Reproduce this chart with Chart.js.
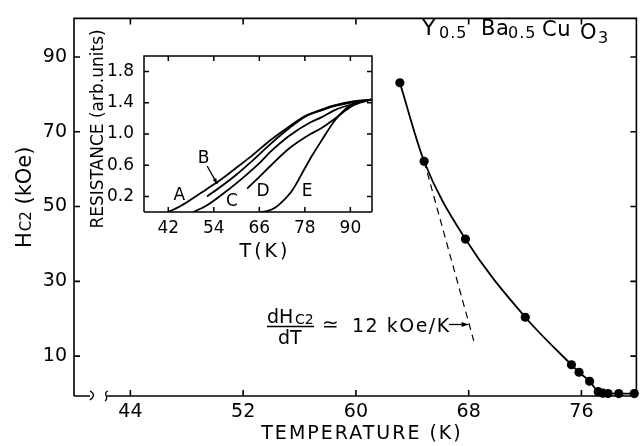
<!DOCTYPE html>
<html>
<head>
<meta charset="utf-8">
<script src="https://cdn.jsdelivr.net/npm/chart.js@4.4.0/dist/chart.umd.min.js"></script>
<style>
  html, body { margin: 0; padding: 0; background: #fff; }
  #wrap { position: relative; width: 641px; height: 446px; }
  #main { position: absolute; left: 0; top: 0; }
  #inset { position: absolute; left: 80px; top: 20px; }
</style>
</head>
<body>
<div id="wrap">
  <canvas id="main" width="641" height="446"></canvas>
  <canvas id="inset" width="300" height="250"></canvas>
</div>
<script>
// main plot: Hc2 vs temperature
const tempK = [63.12, 64.84, 67.77, 72.02, 75.29, 75.83, 76.58, 77.19, 77.52, 77.89, 78.65, 79.75];
const hc2kOe = [83.1, 62.1, 41.3, 20.4, 7.7, 5.7, 3.3, 0.5, 0.1, 0, 0, 0];
// tangent at the second point
const slopeT = [64.84, 68.36];
const slopeH = [62.1, 14.1];
const xTicks = [44, 52, 60, 68, 76];
const yTicks = [10, 30, 50, 70, 90];

// inset: resistance transitions A..E
const curveA_T = [42, 45, 48, 52, 56, 60, 64, 68.9, 74, 78, 82.2, 86, 91, 95.5];
const curveA_R = [0, 0.07, 0.16, 0.29, 0.42, 0.57, 0.72, 0.92, 1.1, 1.23, 1.31, 1.37, 1.42, 1.44];
const curveB_T = [52.2, 56, 60, 64, 68.9, 74, 78, 82.2, 86, 91, 95.5];
const curveB_R = [0.2, 0.33, 0.48, 0.65, 0.87, 1.08, 1.22, 1.3, 1.36, 1.41, 1.44];
const curveC_T = [48.6, 52, 56.6, 60, 66.3, 68.9, 74, 79.5, 82.2, 86, 91, 95.5];
const curveC_R = [0, 0.08, 0.24, 0.37, 0.64, 0.77, 0.98, 1.15, 1.21, 1.31, 1.39, 1.44];
const curveD_T = [62.8, 66, 68.9, 74, 79.5, 82.2, 86, 90.5, 95.5];
const curveD_R = [0.3, 0.45, 0.59, 0.82, 1.0, 1.07, 1.2, 1.36, 1.44];
const curveE_T = [66.3, 68, 70, 72, 74.7, 78, 80, 82.2, 86, 90.1, 95.5];
const curveE_R = [0, 0.01, 0.05, 0.13, 0.28, 0.56, 0.73, 0.9, 1.18, 1.37, 1.44];
const insetXTicks = [42, 54, 66, 78, 90];
const insetYTicks = [0.2, 0.6, 1.0, 1.4, 1.8];
const curveNames = ['A', 'B', 'C', 'D', 'E'];
const curveLabelT = [44.9, 51.3, 58.8, 67.0, 78.6];
const curveLabelR = [0.24, 0.71, 0.16, 0.29, 0.29];

const FONT = '"DejaVu Sans", sans-serif';
const pts = (xs, ys) => xs.map((x, i) => ({ x: x, y: ys[i] }));

function text(ctx, str, x, y, size, opt = {}) {
  ctx.save();
  ctx.font = size + 'px ' + FONT;
  ctx.fillStyle = '#000';
  ctx.textAlign = opt.align || 'left';
  ctx.textBaseline = 'alphabetic';
  if (opt.spacing) ctx.letterSpacing = opt.spacing + 'px';
  ctx.fillText(str, x, y);
  const w = ctx.measureText(str).width;
  ctx.restore();
  return w;
}

function arrow(ctx, x0, y0, x1, y1, head) {
  const a = Math.atan2(y1 - y0, x1 - x0);
  ctx.save();
  ctx.strokeStyle = '#000';
  ctx.fillStyle = '#000';
  ctx.lineWidth = 1.3;
  ctx.beginPath();
  ctx.moveTo(x0, y0);
  ctx.lineTo(x1, y1);
  ctx.stroke();
  ctx.beginPath();
  ctx.moveTo(x1, y1);
  ctx.lineTo(x1 - head * Math.cos(a - 0.35), y1 - head * Math.sin(a - 0.35));
  ctx.lineTo(x1 - head * Math.cos(a + 0.35), y1 - head * Math.sin(a + 0.35));
  ctx.closePath();
  ctx.fill();
  ctx.restore();
}

// box with inward ticks on all four sides
const frameTicks = {
  id: 'frameTicks',
  afterDatasetsDraw(chart, args, opts) {
    const { ctx, chartArea: a } = chart;
    const { x, y } = chart.scales;
    const L = opts.len;
    ctx.save();
    ctx.strokeStyle = '#000';
    ctx.lineWidth = opts.lineWidth;
    ctx.beginPath();
    ctx.moveTo(a.left, a.bottom);
    ctx.lineTo(a.left, a.top);
    ctx.lineTo(a.right, a.top);
    ctx.lineTo(a.right, a.bottom);
    if (opts.breakAt) {
      ctx.moveTo(a.left, a.bottom);
      ctx.lineTo(a.left + opts.breakAt[0], a.bottom);
      ctx.moveTo(a.left + opts.breakAt[1], a.bottom);
      ctx.lineTo(a.right, a.bottom);
    } else {
      ctx.moveTo(a.left, a.bottom);
      ctx.lineTo(a.right, a.bottom);
    }
    x.ticks.forEach(t => {
      const px = x.getPixelForValue(t.value);
      ctx.moveTo(px, a.bottom); ctx.lineTo(px, a.bottom - L);
      ctx.moveTo(px, a.top); ctx.lineTo(px, a.top + L);
    });
    y.ticks.forEach(t => {
      const py = y.getPixelForValue(t.value);
      ctx.moveTo(a.left, py); ctx.lineTo(a.left + L, py);
      ctx.moveTo(a.right, py); ctx.lineTo(a.right - L, py);
    });
    ctx.stroke();
    if (opts.breakAt) {
      // axis break marks
      const b0 = a.left + opts.breakAt[0], b1 = a.left + opts.breakAt[1], yb = a.bottom;
      ctx.lineWidth = 1.3;
      ctx.beginPath();
      ctx.moveTo(b0, yb - 5);
      ctx.quadraticCurveTo(b0 + 7, yb - 1, b0, yb + 4);
      ctx.moveTo(b1 + 1, yb - 5);
      ctx.bezierCurveTo(b1 - 5, yb - 3, b1 + 3, yb + 2, b1 - 2, yb + 5);
      ctx.stroke();
    }
    ctx.restore();
  }
};

const mainLabels = {
  id: 'mainLabels',
  afterDraw(chart) {
    const ctx = chart.ctx;
    // x title
    text(ctx, 'TEMPERATURE (K)', 362, 439, 19, { align: 'center', spacing: 2 });
    // y title, rotated
    ctx.save();
    ctx.translate(30.5, 248);
    ctx.rotate(-Math.PI / 2);
    let w = text(ctx, 'H', 0, 0, 21);
    w += text(ctx, 'C2', w + 1, 0, 15) + 1;
    text(ctx, ' (kOe)', w, 0, 21);
    ctx.restore();
    // compound
    text(ctx, 'Y', 422, 35, 22);
    text(ctx, '0.5', 439, 38, 16, { spacing: 1 });
    text(ctx, 'Ba', 481, 35, 21, { spacing: 0.5 });
    text(ctx, '0.5', 508, 38, 16, { spacing: 1 });
    text(ctx, 'Cu', 542, 36, 21, { spacing: 0.5 });
    text(ctx, 'O', 580, 39, 21);
    text(ctx, '3', 598, 43, 16);
    // slope annotation
    text(ctx, 'dH', 267, 323, 19);
    text(ctx, 'C2', 295, 324, 14);
    ctx.save();
    ctx.strokeStyle = '#000';
    ctx.lineWidth = 1.3;
    ctx.beginPath();
    ctx.moveTo(267, 326.5);
    ctx.lineTo(314, 326.5);
    ctx.stroke();
    ctx.restore();
    text(ctx, 'dT', 278, 344, 19);
    text(ctx, '\u2243', 322, 331, 20);
    text(ctx, '12 kOe/K', 352, 332, 19, { spacing: 1.5 });
    const sx = chart.scales.x, sy = chart.scales.y;
    const tipY = 324.5;
    const t = (tipY - sy.getPixelForValue(slopeH[0])) / (sy.getPixelForValue(slopeH[1]) - sy.getPixelForValue(slopeH[0]));
    const tipX = sx.getPixelForValue(slopeT[0]) + t * (sx.getPixelForValue(slopeT[1]) - sx.getPixelForValue(slopeT[0]));
    arrow(ctx, 449, tipY, tipX - 1, tipY, 7);
  }
};

const insetLabels = {
  id: 'insetLabels',
  afterDraw(chart) {
    const ctx = chart.ctx;
    const sx = chart.scales.x, sy = chart.scales.y;
    curveNames.forEach((n, i) => {
      text(ctx, n, sx.getPixelForValue(curveLabelT[i]), sy.getPixelForValue(curveLabelR[i]) + 6.5, 17, { align: 'center' });
    });
    arrow(ctx, sx.getPixelForValue(52.25), sy.getPixelForValue(0.59),
      sx.getPixelForValue(54.9), sy.getPixelForValue(0.36), 6);
    ctx.save();
    ctx.translate(23, 109);
    ctx.rotate(-Math.PI / 2);
    text(ctx, 'RESISTANCE (arb.units)', 0, 0, 17, { align: 'center' });
    ctx.restore();
    text(ctx, 'T(K)', 185, 237, 19, { align: 'center', spacing: 3 });
  }
};

const tickFont = { family: FONT, size: 19 };

new Chart(document.getElementById('main'), {
  type: 'scatter',
  data: {
    datasets: [
      {
        data: pts(tempK, hc2kOe),
        showLine: true,
        borderColor: '#000',
        borderWidth: 1.8,
        cubicInterpolationMode: 'monotone',
        pointRadius: 4.6,
        pointBackgroundColor: '#000',
        pointBorderWidth: 0,
        clip: false
      },
      {
        data: pts(slopeT, slopeH),
        showLine: true,
        borderColor: '#000',
        borderWidth: 1.2,
        borderDash: [7, 5],
        pointRadius: 0
      }
    ]
  },
  options: {
    responsive: false,
    animation: false,
    devicePixelRatio: 1,
    layout: { padding: { top: 7, right: 1, left: 0, bottom: 0 } },
    plugins: {
      legend: { display: false },
      tooltip: { enabled: false },
      frameTicks: { len: 6, lineWidth: 1.6, breakAt: [16, 33] }
    },
    scales: {
      x: {
        type: 'linear',
        min: 40,
        max: 79.9,
        afterFit: s => { s.height = 50; },
        afterBuildTicks: s => { s.ticks = xTicks.map(v => ({ value: v })); },
        grid: { display: false, drawTicks: false },
        border: { display: false },
        ticks: { font: tickFont, color: '#000', padding: 5, maxRotation: 0 }
      },
      y: {
        type: 'linear',
        min: -0.65,
        max: 100.3,
        afterFit: s => { s.width = 74; },
        afterBuildTicks: s => { s.ticks = yTicks.map(v => ({ value: v })); },
        grid: { display: false, drawTicks: false },
        border: { display: false },
        ticks: { font: tickFont, color: '#000', padding: 7 }
      }
    }
  },
  plugins: [frameTicks, mainLabels]
});

const insetCurve = (xs, ys) => ({
  data: pts(xs, ys),
  showLine: true,
  borderColor: '#000',
  borderWidth: 1.8,
  cubicInterpolationMode: 'monotone',
  pointRadius: 0
});

new Chart(document.getElementById('inset'), {
  type: 'scatter',
  data: {
    datasets: [
      insetCurve(curveA_T, curveA_R),
      insetCurve(curveB_T, curveB_R),
      insetCurve(curveC_T, curveC_R),
      insetCurve(curveD_T, curveD_R),
      insetCurve(curveE_T, curveE_R)
    ]
  },
  options: {
    responsive: false,
    animation: false,
    devicePixelRatio: 1,
    layout: { padding: { top: 36, right: 8, left: 0, bottom: 0 } },
    plugins: {
      legend: { display: false },
      tooltip: { enabled: false },
      frameTicks: { len: 5, lineWidth: 1.5 }
    },
    scales: {
      x: {
        type: 'linear',
        min: 35.6,
        max: 95.7,
        afterFit: s => { s.height = 58; },
        afterBuildTicks: s => { s.ticks = insetXTicks.map(v => ({ value: v })); },
        grid: { display: false, drawTicks: false },
        border: { display: false },
        ticks: { font: { family: FONT, size: 17 }, color: '#000', padding: 6, maxRotation: 0 }
      },
      y: {
        type: 'linear',
        min: 0,
        max: 2.0,
        afterFit: s => { s.width = 64; },
        afterBuildTicks: s => { s.ticks = insetYTicks.map(v => ({ value: v })); },
        grid: { display: false, drawTicks: false },
        border: { display: false },
        ticks: {
          font: { family: FONT, size: 17 },
          color: '#000',
          padding: 10,
          callback: v => v.toFixed(1)
        }
      }
    }
  },
  plugins: [frameTicks, insetLabels]
});
</script>
</body>
</html>
